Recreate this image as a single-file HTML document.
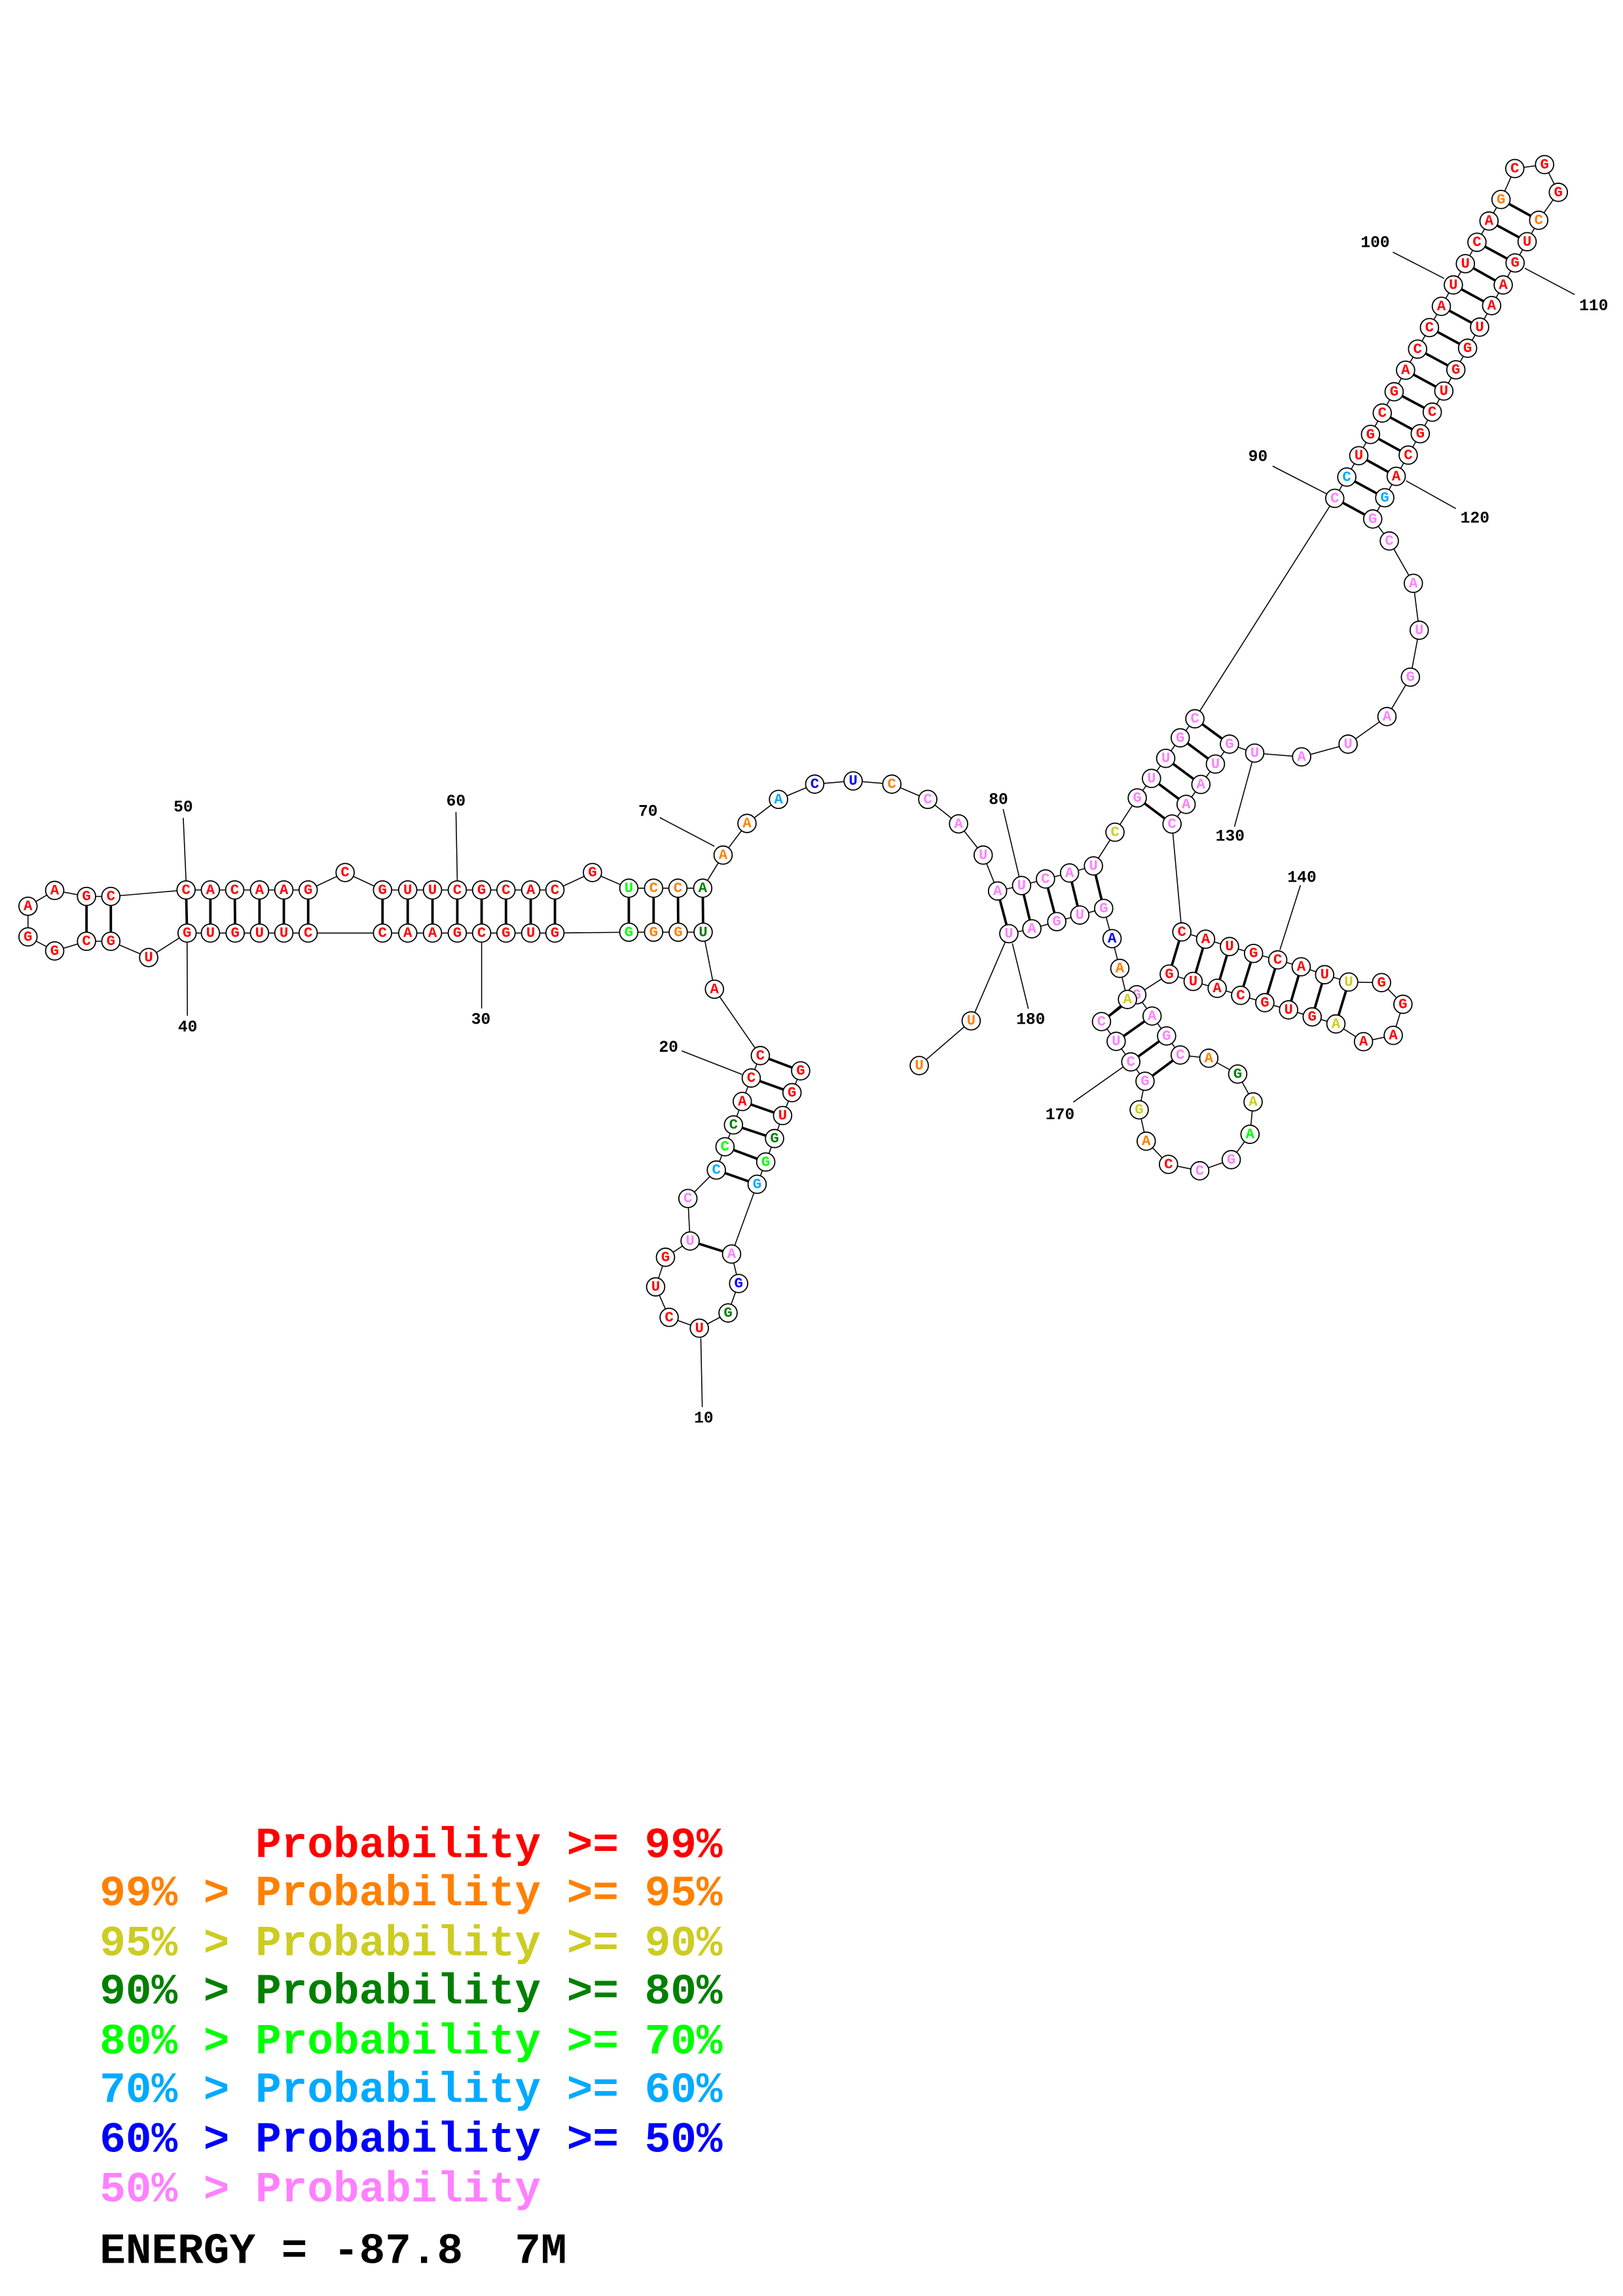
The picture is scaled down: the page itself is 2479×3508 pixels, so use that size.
<!DOCTYPE html>
<html><head><meta charset="utf-8"><style>
html,body{margin:0;padding:0;background:#fff;}
svg{display:block;}
.n circle{fill:#fff;stroke:#000;stroke-width:0.8;}
.n text{font-family:"Liberation Mono",monospace;font-weight:bold;font-size:10px;text-anchor:middle;dominant-baseline:central;}
.lb{font-family:"Liberation Mono",monospace;font-weight:bold;font-size:11px;text-anchor:middle;dominant-baseline:central;fill:#000;}
.lg{font-family:"Liberation Mono",monospace;font-weight:bold;font-size:29.5px;white-space:pre;}
.r{fill:#ff0000}.o{fill:#ff8000}.y{fill:#cccc22}.d{fill:#008000}.g{fill:#00ff00}.c{fill:#00aaff}.b{fill:#0000ff}.p{fill:#ff80ff}
</style></head><body>
<svg width="2479" height="3508" viewBox="0 0 1107 1566.5" preserveAspectRatio="none" xmlns="http://www.w3.org/2000/svg">
<rect width="1107" height="1566.5" fill="#fff"/>
<!-- backbone -->
<path fill="none" stroke="#000" stroke-width="0.7" d="M546.1,730.6 L540.2,745.5 L533.8,761.1 L528.3,776.8 L522.3,792.8 L516.4,808 L499,855.6 L503.8,875.7 L496.6,895.8 L477,906.2 L456.4,898.8 L447.2,878 L453.9,857.8 L470.7,846.7 L469.2,817.7 L488.6,798.3 L494.5,782.4 L500.3,767.5 L506.3,751.5 L512.4,735.5 L518.6,720.2 L487.3,674.9 L479.6,636 L462.6,636 L445.8,636 L428.9,636 L378.5,636.6 L362,636.6 L345.1,636.6 L328.5,636.6 L311.9,636.6 L295,636.6 L278.1,636.6 L260.9,636.6 L210.2,636.6 L193.6,636.6 L177,636.6 L160.4,636.6 L143.5,636.6 L127.6,636.6 L101.4,653.3 L75.6,642.2 L59,642.2 L37.3,648.8 L19.1,639.2 L19.1,618.3 L37.3,607.5 L59,611.6 L75.6,611.6 L126.9,607.2 L143.5,607.2 L160.1,607.2 L177,607.2 L193.6,607.2 L210.2,607.2 L235.4,595.3 L260.9,607.2 L278.1,607.2 L295,607.2 L311.9,607.2 L328.5,607.2 L345.1,607.2 L362,607.2 L378.5,607.2 L404.1,595.3 L428.9,606 L445.8,606 L462.4,606 L479.3,606 L493.2,583.4 L509.5,561.8 L531,545.4 L555.7,535 L581.9,532.8 L608.3,535 L632.8,545.4 L653.8,562.1 L670.6,583.4 L680.4,607.9 L696.8,604.2 L713.1,599.7 L729.5,595.6 L745.8,590.8 L760.5,567.8 L775.7,544.4 L785.4,531.1 L795.1,517.4 L805,503.4 L815,490.4 L910.4,340 L918.6,325.5 L926.8,310.9 L934.8,296.4 L942.8,281.8 L950.9,267.3 L958.7,252.6 L966.9,238.2 L975,223.5 L983.1,209 L991.3,194.4 L999.5,179.9 L1007.4,165.3 L1015.6,150.8 L1023.8,136.1 L1033.2,115 L1053.5,112.3 L1062.9,131.2 L1049.5,150.3 L1041.6,164.9 L1033.4,179.4 L1025.3,194.4 L1017.4,208.5 L1009.2,223.2 L1001,237.6 L993,252.3 L984.8,266.8 L976.9,281.2 L968.7,295.9 L960.5,310.5 L952.3,325 L944.5,339.6 L936.3,354.1 L947.6,369.1 L964,398 L968,430 L962,462 L946,488.9 L919.5,507.7 L887.8,516.4 L855.8,513.8 L838.6,507.7 L829,521.3 L819.1,535.2 L809,548.8 L799.4,562.2 L806.1,635.8 L822.3,640.8 L838.6,645.8 L855,650.5 L871.5,654.9 L887.5,659.6 L903.5,665 L919.9,670 L942.3,670.4 L956.9,685.2 L950.3,706.4 L930,710.7 L911.2,698.6 L895,693.8 L878.9,689 L862.7,684.1 L846.2,679.1 L830.2,674.3 L813.8,669.6 L797.5,664.6 L775.4,678.7 L785.8,693.2 L795.7,706.8 L805,719.8 L824.5,722 L844.2,732.8 L854.7,751.8 L852.6,773.9 L839.8,791.2 L818.3,798.8 L797,794.4 L781.8,778.6 L777,757.2 L781,737.7 L771.3,724.5 L761.3,710.5 L751.3,697 L769,681.9 L763.8,660.7 L758.5,640.4 L752.8,619.8 L736.5,624.3 L720.8,628.8 L703.8,633.7 L688.1,637 L662.4,696.5 L627,727"/>
<!-- pairs -->
<path fill="none" stroke="#000" stroke-width="1.7" d="M546.1,730.6 L518.6,720.2 M540.2,745.5 L512.4,735.5 M533.8,761.1 L506.3,751.5 M528.3,776.8 L500.3,767.5 M522.3,792.8 L494.5,782.4 M516.4,808 L488.6,798.3 M499,855.6 L470.7,846.7
M479.6,636 L479.3,606 M462.6,636 L462.4,606 M445.8,636 L445.8,606 M428.9,636 L428.9,606 M378.5,636.6 L378.5,607.2 M362,636.6 L362,607.2 M345.1,636.6 L345.1,607.2 M328.5,636.6 L328.5,607.2 M311.9,636.6 L311.9,607.2 M295,636.6 L295,607.2 M278.1,636.6 L278.1,607.2 M260.9,636.6 L260.9,607.2 M210.2,636.6 L210.2,607.2 M193.6,636.6 L193.6,607.2 M177,636.6 L177,607.2 M160.4,636.6 L160.1,607.2 M143.5,636.6 L143.5,607.2 M127.6,636.6 L126.9,607.2 M75.6,642.2 L75.6,611.6 M59,642.2 L59,611.6
M680.4,607.9 L688.1,637 M696.8,604.2 L703.8,633.7 M713.1,599.7 L720.8,628.8 M729.5,595.6 L736.5,624.3 M745.8,590.8 L752.8,619.8
M775.7,544.4 L799.4,562.2 M785.4,531.1 L809,548.8 M795.1,517.4 L819.1,535.2 M805,503.4 L829,521.3 M815,490.4 L838.6,507.7
M910.4,340 L936.3,354.1 M918.6,325.5 L944.5,339.6 M926.8,310.9 L952.3,325 M934.8,296.4 L960.5,310.5 M942.8,281.8 L968.7,295.9 M950.9,267.3 L976.9,281.2 M958.7,252.6 L984.8,266.8 M966.9,238.2 L993,252.3 M975,223.5 L1001,237.6 M983.1,209 L1009.2,223.2 M991.3,194.4 L1017.4,208.5 M999.5,179.9 L1025.3,194.4 M1007.4,165.3 L1033.4,179.4 M1015.6,150.8 L1041.6,164.9 M1023.8,136.1 L1049.5,150.3
M806.1,635.8 L797.5,664.6 M822.3,640.8 L813.8,669.6 M838.6,645.8 L830.2,674.3 M855,650.5 L846.2,679.1 M871.5,654.9 L862.7,684.1 M887.5,659.6 L878.9,689 M903.5,665 L895,693.8 M919.9,670 L911.2,698.6
M775.4,678.7 L751.3,697 M785.8,693.2 L761.3,710.5 M795.7,706.8 L771.3,724.5 M805,719.8 L781,737.7"/>
<!-- label lines -->
<path fill="none" stroke="#000" stroke-width="0.7" d="M478,913 L479,960 M465,717 L506,733 M328.5,643 L328.5,688 M127.6,643 L127.8,693 M125,558 L126.9,601 M311,554 L311.9,601 M450,557.8 L487.3,577.4 M684.2,552 L695.1,598 M868,318 L905,337 M950,172 L985,190 M1040,183 L1074,201 M959,328 L993,347 M854,520 L842,564 M887,604 L873,648 M766,728 L732,752 M690.5,643.6 L701.4,688.3"/>
<text class="lb" x="480" y="968">10</text>
<text class="lb" x="456" y="715">20</text>
<text class="lb" x="328" y="696">30</text>
<text class="lb" x="128" y="701">40</text>
<text class="lb" x="125" y="551">50</text>
<text class="lb" x="311" y="547">60</text>
<text class="lb" x="442" y="554">70</text>
<text class="lb" x="681" y="546">80</text>
<text class="lb" x="858" y="312">90</text>
<text class="lb" x="938" y="166">100</text>
<text class="lb" x="1087" y="209">110</text>
<text class="lb" x="1006" y="354">120</text>
<text class="lb" x="839" y="571">130</text>
<text class="lb" x="888" y="599">140</text>
<text class="lb" x="723" y="761">170</text>
<text class="lb" x="703" y="696">180</text>
<!-- nodes -->
<g class="n">
<g transform="translate(546.1,730.6)"><circle r="6.2"/><text class="r">G</text></g>
<g transform="translate(540.2,745.5)"><circle r="6.2"/><text class="r">G</text></g>
<g transform="translate(533.8,761.1)"><circle r="6.2"/><text class="r">U</text></g>
<g transform="translate(528.3,776.8)"><circle r="6.2"/><text class="d">G</text></g>
<g transform="translate(522.3,792.8)"><circle r="6.2"/><text class="g">G</text></g>
<g transform="translate(516.4,808)"><circle r="6.2"/><text class="c">G</text></g>
<g transform="translate(499,855.6)"><circle r="6.2"/><text class="p">A</text></g>
<g transform="translate(503.8,875.7)"><circle r="6.2"/><text class="b">G</text></g>
<g transform="translate(496.6,895.8)"><circle r="6.2"/><text class="d">G</text></g>
<g transform="translate(477,906.2)"><circle r="6.2"/><text class="r">U</text></g>
<g transform="translate(456.4,898.8)"><circle r="6.2"/><text class="r">C</text></g>
<g transform="translate(447.2,878)"><circle r="6.2"/><text class="r">U</text></g>
<g transform="translate(453.9,857.8)"><circle r="6.2"/><text class="r">G</text></g>
<g transform="translate(470.7,846.7)"><circle r="6.2"/><text class="p">U</text></g>
<g transform="translate(469.2,817.7)"><circle r="6.2"/><text class="p">C</text></g>
<g transform="translate(488.6,798.3)"><circle r="6.2"/><text class="c">C</text></g>
<g transform="translate(494.5,782.4)"><circle r="6.2"/><text class="g">C</text></g>
<g transform="translate(500.3,767.5)"><circle r="6.2"/><text class="d">C</text></g>
<g transform="translate(506.3,751.5)"><circle r="6.2"/><text class="r">A</text></g>
<g transform="translate(512.4,735.5)"><circle r="6.2"/><text class="r">C</text></g>
<g transform="translate(518.6,720.2)"><circle r="6.2"/><text class="r">C</text></g>
<g transform="translate(487.3,674.9)"><circle r="6.2"/><text class="r">A</text></g>
<g transform="translate(479.6,636)"><circle r="6.2"/><text class="d">U</text></g>
<g transform="translate(462.6,636)"><circle r="6.2"/><text class="o">G</text></g>
<g transform="translate(445.8,636)"><circle r="6.2"/><text class="o">G</text></g>
<g transform="translate(428.9,636)"><circle r="6.2"/><text class="g">G</text></g>
<g transform="translate(378.5,636.6)"><circle r="6.2"/><text class="r">G</text></g>
<g transform="translate(362,636.6)"><circle r="6.2"/><text class="r">U</text></g>
<g transform="translate(345.1,636.6)"><circle r="6.2"/><text class="r">G</text></g>
<g transform="translate(328.5,636.6)"><circle r="6.2"/><text class="r">C</text></g>
<g transform="translate(311.9,636.6)"><circle r="6.2"/><text class="r">G</text></g>
<g transform="translate(295,636.6)"><circle r="6.2"/><text class="r">A</text></g>
<g transform="translate(278.1,636.6)"><circle r="6.2"/><text class="r">A</text></g>
<g transform="translate(260.9,636.6)"><circle r="6.2"/><text class="r">C</text></g>
<g transform="translate(210.2,636.6)"><circle r="6.2"/><text class="r">C</text></g>
<g transform="translate(193.6,636.6)"><circle r="6.2"/><text class="r">U</text></g>
<g transform="translate(177,636.6)"><circle r="6.2"/><text class="r">U</text></g>
<g transform="translate(160.4,636.6)"><circle r="6.2"/><text class="r">G</text></g>
<g transform="translate(143.5,636.6)"><circle r="6.2"/><text class="r">U</text></g>
<g transform="translate(127.6,636.6)"><circle r="6.2"/><text class="r">G</text></g>
<g transform="translate(101.4,653.3)"><circle r="6.2"/><text class="r">U</text></g>
<g transform="translate(75.6,642.2)"><circle r="6.2"/><text class="r">G</text></g>
<g transform="translate(59,642.2)"><circle r="6.2"/><text class="r">C</text></g>
<g transform="translate(37.3,648.8)"><circle r="6.2"/><text class="r">G</text></g>
<g transform="translate(19.1,639.2)"><circle r="6.2"/><text class="r">G</text></g>
<g transform="translate(19.1,618.3)"><circle r="6.2"/><text class="r">A</text></g>
<g transform="translate(37.3,607.5)"><circle r="6.2"/><text class="r">A</text></g>
<g transform="translate(59,611.6)"><circle r="6.2"/><text class="r">G</text></g>
<g transform="translate(75.6,611.6)"><circle r="6.2"/><text class="r">C</text></g>
<g transform="translate(126.9,607.2)"><circle r="6.2"/><text class="r">C</text></g>
<g transform="translate(143.5,607.2)"><circle r="6.2"/><text class="r">A</text></g>
<g transform="translate(160.1,607.2)"><circle r="6.2"/><text class="r">C</text></g>
<g transform="translate(177,607.2)"><circle r="6.2"/><text class="r">A</text></g>
<g transform="translate(193.6,607.2)"><circle r="6.2"/><text class="r">A</text></g>
<g transform="translate(210.2,607.2)"><circle r="6.2"/><text class="r">G</text></g>
<g transform="translate(235.4,595.3)"><circle r="6.2"/><text class="r">C</text></g>
<g transform="translate(260.9,607.2)"><circle r="6.2"/><text class="r">G</text></g>
<g transform="translate(278.1,607.2)"><circle r="6.2"/><text class="r">U</text></g>
<g transform="translate(295,607.2)"><circle r="6.2"/><text class="r">U</text></g>
<g transform="translate(311.9,607.2)"><circle r="6.2"/><text class="r">C</text></g>
<g transform="translate(328.5,607.2)"><circle r="6.2"/><text class="r">G</text></g>
<g transform="translate(345.1,607.2)"><circle r="6.2"/><text class="r">C</text></g>
<g transform="translate(362,607.2)"><circle r="6.2"/><text class="r">A</text></g>
<g transform="translate(378.5,607.2)"><circle r="6.2"/><text class="r">C</text></g>
<g transform="translate(404.1,595.3)"><circle r="6.2"/><text class="r">G</text></g>
<g transform="translate(428.9,606)"><circle r="6.2"/><text class="g">U</text></g>
<g transform="translate(445.8,606)"><circle r="6.2"/><text class="o">C</text></g>
<g transform="translate(462.4,606)"><circle r="6.2"/><text class="o">C</text></g>
<g transform="translate(479.3,606)"><circle r="6.2"/><text class="d">A</text></g>
<g transform="translate(493.2,583.4)"><circle r="6.2"/><text class="o">A</text></g>
<g transform="translate(509.5,561.8)"><circle r="6.2"/><text class="o">A</text></g>
<g transform="translate(531,545.4)"><circle r="6.2"/><text class="c">A</text></g>
<g transform="translate(555.7,535)"><circle r="6.2"/><text class="b">C</text></g>
<g transform="translate(581.9,532.8)"><circle r="6.2"/><text class="b">U</text></g>
<g transform="translate(608.3,535)"><circle r="6.2"/><text class="o">C</text></g>
<g transform="translate(632.8,545.4)"><circle r="6.2"/><text class="p">C</text></g>
<g transform="translate(653.8,562.1)"><circle r="6.2"/><text class="p">A</text></g>
<g transform="translate(670.6,583.4)"><circle r="6.2"/><text class="p">U</text></g>
<g transform="translate(680.4,607.9)"><circle r="6.2"/><text class="p">A</text></g>
<g transform="translate(696.8,604.2)"><circle r="6.2"/><text class="p">U</text></g>
<g transform="translate(713.1,599.7)"><circle r="6.2"/><text class="p">C</text></g>
<g transform="translate(729.5,595.6)"><circle r="6.2"/><text class="p">A</text></g>
<g transform="translate(745.8,590.8)"><circle r="6.2"/><text class="p">U</text></g>
<g transform="translate(760.5,567.8)"><circle r="6.2"/><text class="y">C</text></g>
<g transform="translate(775.7,544.4)"><circle r="6.2"/><text class="p">G</text></g>
<g transform="translate(785.4,531.1)"><circle r="6.2"/><text class="p">U</text></g>
<g transform="translate(795.1,517.4)"><circle r="6.2"/><text class="p">U</text></g>
<g transform="translate(805,503.4)"><circle r="6.2"/><text class="p">G</text></g>
<g transform="translate(815,490.4)"><circle r="6.2"/><text class="p">C</text></g>
<g transform="translate(910.4,340)"><circle r="6.2"/><text class="p">C</text></g>
<g transform="translate(918.6,325.5)"><circle r="6.2"/><text class="c">C</text></g>
<g transform="translate(926.8,310.9)"><circle r="6.2"/><text class="r">U</text></g>
<g transform="translate(934.8,296.4)"><circle r="6.2"/><text class="r">G</text></g>
<g transform="translate(942.8,281.8)"><circle r="6.2"/><text class="r">C</text></g>
<g transform="translate(950.9,267.3)"><circle r="6.2"/><text class="r">G</text></g>
<g transform="translate(958.7,252.6)"><circle r="6.2"/><text class="r">A</text></g>
<g transform="translate(966.9,238.2)"><circle r="6.2"/><text class="r">C</text></g>
<g transform="translate(975,223.5)"><circle r="6.2"/><text class="r">C</text></g>
<g transform="translate(983.1,209)"><circle r="6.2"/><text class="r">A</text></g>
<g transform="translate(991.3,194.4)"><circle r="6.2"/><text class="r">U</text></g>
<g transform="translate(999.5,179.9)"><circle r="6.2"/><text class="r">U</text></g>
<g transform="translate(1007.4,165.3)"><circle r="6.2"/><text class="r">C</text></g>
<g transform="translate(1015.6,150.8)"><circle r="6.2"/><text class="r">A</text></g>
<g transform="translate(1023.8,136.1)"><circle r="6.2"/><text class="o">G</text></g>
<g transform="translate(1033.2,115)"><circle r="6.2"/><text class="r">C</text></g>
<g transform="translate(1053.5,112.3)"><circle r="6.2"/><text class="r">G</text></g>
<g transform="translate(1062.9,131.2)"><circle r="6.2"/><text class="r">G</text></g>
<g transform="translate(1049.5,150.3)"><circle r="6.2"/><text class="o">C</text></g>
<g transform="translate(1041.6,164.9)"><circle r="6.2"/><text class="r">U</text></g>
<g transform="translate(1033.4,179.4)"><circle r="6.2"/><text class="r">G</text></g>
<g transform="translate(1025.3,194.4)"><circle r="6.2"/><text class="r">A</text></g>
<g transform="translate(1017.4,208.5)"><circle r="6.2"/><text class="r">A</text></g>
<g transform="translate(1009.2,223.2)"><circle r="6.2"/><text class="r">U</text></g>
<g transform="translate(1001,237.6)"><circle r="6.2"/><text class="r">G</text></g>
<g transform="translate(993,252.3)"><circle r="6.2"/><text class="r">G</text></g>
<g transform="translate(984.8,266.8)"><circle r="6.2"/><text class="r">U</text></g>
<g transform="translate(976.9,281.2)"><circle r="6.2"/><text class="r">C</text></g>
<g transform="translate(968.7,295.9)"><circle r="6.2"/><text class="r">G</text></g>
<g transform="translate(960.5,310.5)"><circle r="6.2"/><text class="r">C</text></g>
<g transform="translate(952.3,325)"><circle r="6.2"/><text class="r">A</text></g>
<g transform="translate(944.5,339.6)"><circle r="6.2"/><text class="c">G</text></g>
<g transform="translate(936.3,354.1)"><circle r="6.2"/><text class="p">G</text></g>
<g transform="translate(947.6,369.1)"><circle r="6.2"/><text class="p">C</text></g>
<g transform="translate(964,398)"><circle r="6.2"/><text class="p">A</text></g>
<g transform="translate(968,430)"><circle r="6.2"/><text class="p">U</text></g>
<g transform="translate(962,462)"><circle r="6.2"/><text class="p">G</text></g>
<g transform="translate(946,488.9)"><circle r="6.2"/><text class="p">A</text></g>
<g transform="translate(919.5,507.7)"><circle r="6.2"/><text class="p">U</text></g>
<g transform="translate(887.8,516.4)"><circle r="6.2"/><text class="p">A</text></g>
<g transform="translate(855.8,513.8)"><circle r="6.2"/><text class="p">U</text></g>
<g transform="translate(838.6,507.7)"><circle r="6.2"/><text class="p">G</text></g>
<g transform="translate(829,521.3)"><circle r="6.2"/><text class="p">U</text></g>
<g transform="translate(819.1,535.2)"><circle r="6.2"/><text class="p">A</text></g>
<g transform="translate(809,548.8)"><circle r="6.2"/><text class="p">A</text></g>
<g transform="translate(799.4,562.2)"><circle r="6.2"/><text class="p">C</text></g>
<g transform="translate(806.1,635.8)"><circle r="6.2"/><text class="r">C</text></g>
<g transform="translate(822.3,640.8)"><circle r="6.2"/><text class="r">A</text></g>
<g transform="translate(838.6,645.8)"><circle r="6.2"/><text class="r">U</text></g>
<g transform="translate(855,650.5)"><circle r="6.2"/><text class="r">G</text></g>
<g transform="translate(871.5,654.9)"><circle r="6.2"/><text class="r">C</text></g>
<g transform="translate(887.5,659.6)"><circle r="6.2"/><text class="r">A</text></g>
<g transform="translate(903.5,665)"><circle r="6.2"/><text class="r">U</text></g>
<g transform="translate(919.9,670)"><circle r="6.2"/><text class="y">U</text></g>
<g transform="translate(942.3,670.4)"><circle r="6.2"/><text class="r">G</text></g>
<g transform="translate(956.9,685.2)"><circle r="6.2"/><text class="r">G</text></g>
<g transform="translate(950.3,706.4)"><circle r="6.2"/><text class="r">A</text></g>
<g transform="translate(930,710.7)"><circle r="6.2"/><text class="r">A</text></g>
<g transform="translate(911.2,698.6)"><circle r="6.2"/><text class="y">A</text></g>
<g transform="translate(895,693.8)"><circle r="6.2"/><text class="r">G</text></g>
<g transform="translate(878.9,689)"><circle r="6.2"/><text class="r">U</text></g>
<g transform="translate(862.7,684.1)"><circle r="6.2"/><text class="r">G</text></g>
<g transform="translate(846.2,679.1)"><circle r="6.2"/><text class="r">C</text></g>
<g transform="translate(830.2,674.3)"><circle r="6.2"/><text class="r">A</text></g>
<g transform="translate(813.8,669.6)"><circle r="6.2"/><text class="r">U</text></g>
<g transform="translate(797.5,664.6)"><circle r="6.2"/><text class="r">G</text></g>
<g transform="translate(775.4,678.7)"><circle r="6.2"/><text class="p">G</text></g>
<g transform="translate(785.8,693.2)"><circle r="6.2"/><text class="p">A</text></g>
<g transform="translate(795.7,706.8)"><circle r="6.2"/><text class="p">G</text></g>
<g transform="translate(805,719.8)"><circle r="6.2"/><text class="p">C</text></g>
<g transform="translate(824.5,722)"><circle r="6.2"/><text class="o">A</text></g>
<g transform="translate(844.2,732.8)"><circle r="6.2"/><text class="d">G</text></g>
<g transform="translate(854.7,751.8)"><circle r="6.2"/><text class="y">A</text></g>
<g transform="translate(852.6,773.9)"><circle r="6.2"/><text class="g">A</text></g>
<g transform="translate(839.8,791.2)"><circle r="6.2"/><text class="p">G</text></g>
<g transform="translate(818.3,798.8)"><circle r="6.2"/><text class="p">C</text></g>
<g transform="translate(797,794.4)"><circle r="6.2"/><text class="r">C</text></g>
<g transform="translate(781.8,778.6)"><circle r="6.2"/><text class="o">A</text></g>
<g transform="translate(777,757.2)"><circle r="6.2"/><text class="y">G</text></g>
<g transform="translate(781,737.7)"><circle r="6.2"/><text class="p">G</text></g>
<g transform="translate(771.3,724.5)"><circle r="6.2"/><text class="p">C</text></g>
<g transform="translate(761.3,710.5)"><circle r="6.2"/><text class="p">U</text></g>
<g transform="translate(751.3,697)"><circle r="6.2"/><text class="p">C</text></g>
<g transform="translate(769,681.9)"><circle r="6.2"/><text class="y">A</text></g>
<g transform="translate(763.8,660.7)"><circle r="6.2"/><text class="o">A</text></g>
<g transform="translate(758.5,640.4)"><circle r="6.2"/><text class="b">A</text></g>
<g transform="translate(752.8,619.8)"><circle r="6.2"/><text class="p">G</text></g>
<g transform="translate(736.5,624.3)"><circle r="6.2"/><text class="p">U</text></g>
<g transform="translate(720.8,628.8)"><circle r="6.2"/><text class="p">G</text></g>
<g transform="translate(703.8,633.7)"><circle r="6.2"/><text class="p">A</text></g>
<g transform="translate(688.1,637)"><circle r="6.2"/><text class="p">U</text></g>
<g transform="translate(662.4,696.5)"><circle r="6.2"/><text class="o">U</text></g>
<g transform="translate(627,727)"><circle r="6.2"/><text class="o">U</text></g>
</g>
<!-- legend -->
<text class="lg" x="68" y="1267" xml:space="preserve"><tspan fill="#ff0000">      Probability &gt;= 99%</tspan></text>
<text class="lg" x="68" y="1300" xml:space="preserve" fill="#ff8000">99% &gt; Probability &gt;= 95%</text>
<text class="lg" x="68" y="1334" xml:space="preserve" fill="#cccc22">95% &gt; Probability &gt;= 90%</text>
<text class="lg" x="68" y="1367" xml:space="preserve" fill="#008000">90% &gt; Probability &gt;= 80%</text>
<text class="lg" x="68" y="1401" xml:space="preserve" fill="#00ff00">80% &gt; Probability &gt;= 70%</text>
<text class="lg" x="68" y="1434" xml:space="preserve" fill="#00aaff">70% &gt; Probability &gt;= 60%</text>
<text class="lg" x="68" y="1468" xml:space="preserve" fill="#0000ff">60% &gt; Probability &gt;= 50%</text>
<text class="lg" x="68" y="1502" xml:space="preserve" fill="#ff80ff">50% &gt; Probability</text>
<text class="lg" x="68" y="1544" xml:space="preserve" fill="#000000">ENERGY = -87.8  7M</text>
</svg>
</body></html>
